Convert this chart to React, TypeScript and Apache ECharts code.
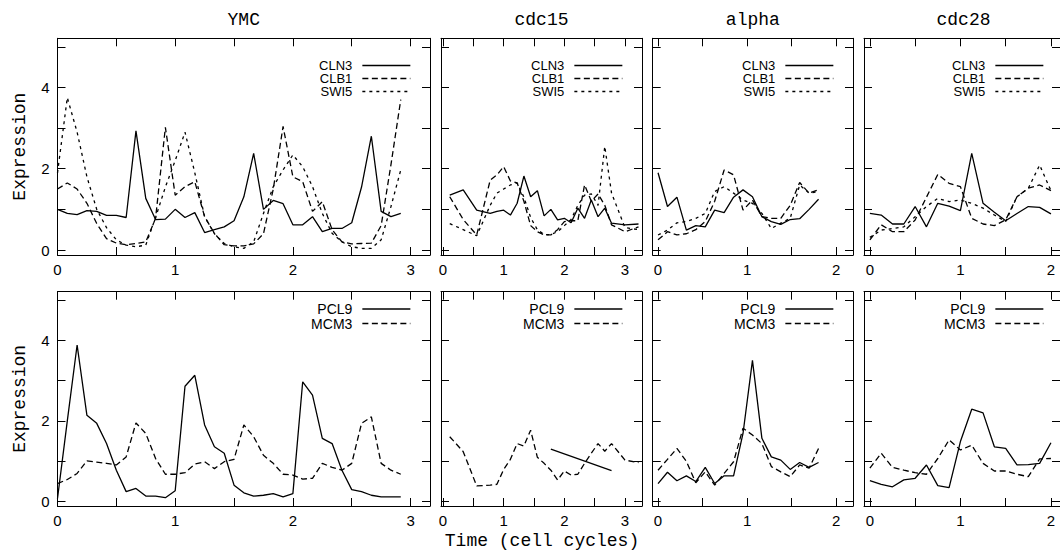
import React, { useEffect, useRef } from "react";
import * as echarts from "echarts";

// ---- sampling times (minutes) and cycle periods ----
const ymcTimes = [0, 25, 50, 75, 100, 125, 150, 175, 200, 225, 250, 275, 300, 325, 350, 375, 400, 425, 450, 475, 500, 525, 550, 575, 600, 625, 650, 675, 700, 725, 750, 775, 800, 825, 850, 875];
const cdc15Times = [10, 30, 50, 70, 80, 90, 100, 110, 120, 130, 140, 150, 160, 170, 180, 190, 200, 210, 220, 230, 240, 250, 270, 290];
const alphaTimes = [0, 7, 14, 21, 28, 35, 42, 49, 56, 63, 70, 77, 84, 91, 98, 105, 112, 119];
const cdc28Times = [0, 10, 20, 30, 40, 50, 60, 70, 80, 90, 100, 110, 120, 130, 140, 150, 160];
const cdc15Pcl9Times = [160, 250];
const periods = [300, 90, 66, 80];

// ---- expression values ----
const ymcCLN3 = [1.0, 0.9, 0.87, 0.97, 0.95, 0.85, 0.85, 0.8, 2.93, 1.27, 0.75, 0.76, 1.0, 0.8, 0.92, 0.43, 0.5, 0.57, 0.72, 1.31, 2.38, 1.0, 1.22, 1.14, 0.62, 0.62, 0.82, 0.45, 0.53, 0.53, 0.67, 1.55, 2.8, 0.95, 0.82, 0.9];
const ymcCLB1 = [1.5, 1.65, 1.5, 1.15, 0.65, 0.28, 0.17, 0.13, 0.16, 0.2, 0.78, 3.02, 1.35, 1.56, 1.68, 0.82, 0.41, 0.13, 0.1, 0.1, 0.15, 0.4, 1.5, 3.04, 1.8, 1.68, 0.95, 1.19, 0.5, 0.2, 0.15, 0.16, 0.17, 0.6, 2.1, 3.7];
const ymcSWI5 = [1.9, 3.75, 2.9, 1.8, 1.0, 0.55, 0.25, 0.12, 0.08, 0.12, 0.8, 1.55, 2.2, 2.9, 1.9, 0.82, 0.4, 0.16, 0.08, 0.04, 0.2, 0.9, 1.56, 1.97, 2.34, 2.05, 1.56, 0.9, 0.41, 0.2, 0.08, 0.04, 0.04, 0.25, 1.07, 1.97];
const ymcPCL9 = [0.08, 2.0, 3.88, 2.14, 1.94, 1.44, 0.78, 0.25, 0.33, 0.14, 0.14, 0.1, 0.27, 2.86, 3.13, 1.9, 1.36, 1.2, 0.41, 0.22, 0.14, 0.16, 0.2, 0.12, 0.2, 2.97, 2.64, 1.57, 1.44, 0.78, 0.3, 0.25, 0.16, 0.12, 0.12, 0.12];
const ymcMCM3 = [0.45, 0.55, 0.7, 1.01, 0.98, 0.95, 0.91, 1.11, 1.95, 1.69, 1.07, 0.68, 0.68, 0.72, 0.93, 0.99, 0.82, 0.99, 1.05, 1.9, 1.61, 1.15, 0.95, 0.68, 0.66, 0.56, 0.58, 0.95, 0.85, 0.78, 0.95, 1.94, 2.1, 0.95, 0.78, 0.68];

const cdc15CLN3 = [1.35, 1.48, 0.98, 0.9, 0.95, 0.98, 0.86, 1.15, 1.82, 1.31, 1.46, 0.84, 1.0, 0.74, 0.78, 0.67, 1.03, 0.78, 1.23, 0.82, 1.03, 0.66, 0.62, 0.64];
const cdc15CLB1 = [1.31, 0.75, 0.37, 1.72, 1.85, 2.05, 1.7, 1.65, 1.2, 0.6, 0.45, 0.37, 0.37, 0.5, 0.7, 0.72, 0.72, 1.6, 1.2, 1.38, 1.1, 0.62, 0.45, 0.57];
const cdc15SWI5 = [0.65, 0.5, 0.35, 1.1, 1.4, 1.5, 1.6, 1.65, 1.3, 0.8, 0.5, 0.38, 0.38, 0.45, 0.6, 0.75, 1.1, 1.35, 1.38, 1.1, 2.55, 1.4, 0.55, 0.5];
const cdc15PCL9 = [1.3, 0.77];
const cdc15MCM3 = [1.61, 1.24, 0.39, 0.41, 0.43, 0.8, 1.05, 1.44, 1.38, 1.77, 1.1, 0.95, 0.78, 0.54, 0.76, 0.66, 0.68, 0.95, 1.2, 1.44, 1.25, 1.44, 1.03, 0.97];

const alphaCLN3 = [1.9, 1.07, 1.3, 0.49, 0.6, 0.57, 0.98, 0.92, 1.3, 1.48, 1.31, 0.82, 0.7, 0.63, 0.75, 0.77, 1.0, 1.25];
const alphaCLB1 = [0.25, 0.45, 0.37, 0.4, 0.5, 0.7, 1.2, 1.97, 1.85, 0.98, 1.23, 0.82, 0.78, 0.78, 1.1, 1.66, 1.4, 1.48];
const alphaSWI5 = [0.37, 0.49, 0.67, 0.7, 0.78, 0.9, 1.44, 1.56, 1.4, 1.23, 1.15, 0.9, 0.53, 0.66, 0.78, 1.6, 1.4, 1.44];
const alphaPCL9 = [0.45, 0.73, 0.52, 0.64, 0.5, 0.85, 0.45, 0.64, 0.64, 1.69, 3.5, 1.57, 1.11, 1.03, 0.8, 0.97, 0.85, 0.97];
const alphaMCM3 = [0.78, 1.05, 1.32, 1.0, 0.47, 0.74, 0.41, 0.7, 0.99, 1.82, 1.65, 1.44, 0.87, 0.74, 0.62, 0.91, 0.83, 1.32];

const cdc28CLN3 = [0.9, 0.86, 0.64, 0.64, 1.07, 0.57, 1.15, 1.08, 0.97, 2.38, 1.15, 0.93, 0.72, 0.9, 1.07, 1.05, 0.89];
const cdc28CLB1 = [0.25, 0.62, 0.45, 0.45, 0.74, 1.3, 1.86, 1.64, 1.56, 0.78, 0.64, 0.6, 0.74, 1.31, 1.52, 1.6, 1.46];
const cdc28SWI5 = [0.31, 0.49, 0.53, 0.57, 0.82, 1.07, 1.27, 1.19, 1.23, 1.15, 1.03, 0.86, 0.7, 1.31, 1.52, 2.09, 1.46];
const cdc28PCL9 = [0.52, 0.43, 0.37, 0.54, 0.58, 0.91, 0.4, 0.35, 1.49, 2.29, 2.2, 1.36, 1.32, 0.91, 0.92, 0.95, 1.46];
const cdc28MCM3 = [0.83, 1.2, 0.85, 0.78, 0.72, 0.68, 1.07, 1.53, 1.28, 1.4, 0.95, 0.76, 0.76, 0.68, 0.62, 1.06, 1.07];

// ---- labels and ticks ----
const panelTitles = ["YMC", "cdc15", "alpha", "cdc28"];
const topGenes = ["CLN3", "CLB1", "SWI5"];
const bottomGenes = ["PCL9", "MCM3"];
const xTicks3 = [0, 0.5, 1, 1.5, 2, 2.5, 3];
const xTicks2 = [0, 0.5, 1, 1.5, 2];
const xLabels3 = [0, 1, 2, 3];
const xLabels2 = [0, 1, 2];
const yTicks = [0, 1, 2, 3, 4, 5];
const yLabels = [0, 2, 4];
const yAxisTitle = "Expression";
const xAxisTitle = "Time (cell cycles)";

// ---- layout ----
const W = 1060;
const H = 558;
const colLeft = [57.5, 441, 652.7, 864];
const colWidth = [372.5, 201, 200.3, 199];
const rowTop = [38.3, 291.7];
const rowHeight = [216.7, 214.3];
const xRanges = [[0, 3.165], [-0.033, 3.28], [-0.06, 2.19], [-0.065, 2.1]];
const yRanges = [[-0.123, 5.21], [-0.106, 5.2]];
const legendTop = [59, 302];
const legendFont = [13, 14];
const legendGap = [0, 0.5];

const dashStyles: Record<string, any> = {
  CLN3: "solid",
  CLB1: [6, 3.5],
  SWI5: [3, 4],
  PCL9: "solid",
  MCM3: [6, 3.5],
};

export default function App() {
  const ref = useRef<HTMLDivElement>(null);
  useEffect(() => {
    if (!ref.current) return;
    const chart = echarts.init(ref.current, null, { renderer: "svg", width: W, height: H });

    const times = [ymcTimes, cdc15Times, alphaTimes, cdc28Times];
    const topData = [
      [ymcCLN3, ymcCLB1, ymcSWI5],
      [cdc15CLN3, cdc15CLB1, cdc15SWI5],
      [alphaCLN3, alphaCLB1, alphaSWI5],
      [cdc28CLN3, cdc28CLB1, cdc28SWI5],
    ];
    const bottomData = [
      [ymcPCL9, ymcMCM3],
      [cdc15PCL9, cdc15MCM3],
      [alphaPCL9, alphaMCM3],
      [cdc28PCL9, cdc28MCM3],
    ];

    const grids: any[] = [];
    const xAxes: any[] = [];
    const yAxes: any[] = [];
    const series: any[] = [];
    const legends: any[] = [];

    const axisLine = { show: true, onZero: false, lineStyle: { color: "#000", width: 1 } };
    const labelFont = { fontFamily: "Liberation Sans, Arial, sans-serif", fontSize: 15, color: "#000" };

    for (let r = 0; r < 2; r++) {
      for (let c = 0; c < 4; c++) {
        const g = r * 4 + c;
        grids.push({
          left: colLeft[c],
          top: rowTop[r],
          width: colWidth[c],
          height: rowHeight[r],
          containLabel: false,
        });
        const ticks = c < 2 ? xTicks3 : xTicks2;
        const labs = c < 2 ? xLabels3 : xLabels2;
        xAxes.push({
          type: "value",
          gridIndex: g,
          position: "bottom",
          min: xRanges[c][0],
          max: xRanges[c][1],
          axisLine,
          splitLine: { show: false },
          axisTick: { show: true, inside: true, length: 8, customValues: ticks, lineStyle: { color: "#000" } },
          axisLabel: { show: true, customValues: labs, margin: 7, ...labelFont },
        });
        xAxes.push({
          type: "value",
          gridIndex: g,
          position: "top",
          min: xRanges[c][0],
          max: xRanges[c][1],
          axisLine,
          splitLine: { show: false },
          axisTick: { show: true, inside: true, length: 8, customValues: ticks, lineStyle: { color: "#000" } },
          axisLabel: { show: false },
        });
        yAxes.push({
          type: "value",
          gridIndex: g,
          position: "left",
          min: yRanges[r][0],
          max: yRanges[r][1],
          axisLine,
          splitLine: { show: false },
          axisTick: { show: true, inside: true, length: 8, customValues: yTicks, lineStyle: { color: "#000" } },
          axisLabel: c === 0 ? { show: true, customValues: yLabels, margin: 8, ...labelFont } : { show: false },
        });
        yAxes.push({
          type: "value",
          gridIndex: g,
          position: "right",
          min: yRanges[r][0],
          max: yRanges[r][1],
          axisLine,
          splitLine: { show: false },
          axisTick: { show: true, inside: true, length: 8, customValues: yTicks, lineStyle: { color: "#000" } },
          axisLabel: { show: false },
        });

        const genes = r === 0 ? topGenes : bottomGenes;
        const dataSets = r === 0 ? topData[c] : bottomData[c];
        genes.forEach((name, k) => {
          const ys = dataSets[k];
          const ts = r === 1 && c === 1 && name === "PCL9" ? cdc15Pcl9Times : times[c];
          series.push({
            type: "line",
            name,
            xAxisIndex: g * 2,
            yAxisIndex: g * 2,
            data: ys.map((v: number, i: number) => [ts[i] / periods[c], v]),
            symbol: "none",
            showSymbol: false,
            smooth: false,
            clip: true,
            lineStyle: { color: "#000", width: 1.3, type: dashStyles[name] },
            itemStyle: { color: "#000" },
            emphasis: { disabled: true },
          });
        });

        legends.push({
          orient: "vertical",
          right: W - (colLeft[c] + colWidth[c]) + 19,
          top: legendTop[r],
          align: "right",
          itemWidth: 48,
          itemHeight: 10,
          itemGap: legendGap[r],
          padding: 0,
          selectedMode: false,
          data: genes,
          itemStyle: { color: "rgba(0,0,0,0)", borderColor: "rgba(0,0,0,0)", borderWidth: 0, opacity: 0 },
          lineStyle: { width: 1.3, color: "#000" },
          textStyle: {
            fontFamily: "Liberation Sans, Arial, sans-serif",
            fontSize: legendFont[r],
            color: "#000",
            padding: [0, 5, 0, 0],
          },
        });
      }
    }

    const monoFont = "18px 'Liberation Mono', 'Courier New', monospace";
    const graphics: any[] = [];
    panelTitles.forEach((t, c) => {
      graphics.push({
        type: "text",
        x: colLeft[c] + colWidth[c] / 2,
        y: 20,
        style: { text: t, font: monoFont, fill: "#000", align: "center", verticalAlign: "middle" },
      });
    });
    for (let r = 0; r < 2; r++) {
      graphics.push({
        type: "text",
        x: 20,
        y: rowTop[r] + rowHeight[r] / 2,
        rotation: Math.PI / 2,
        style: { text: yAxisTitle, font: monoFont, fill: "#000", align: "center", verticalAlign: "middle" },
      });
    }
    graphics.push({
      type: "text",
      x: 542,
      y: 541,
      style: { text: xAxisTitle, font: monoFont, fill: "#000", align: "center", verticalAlign: "middle" },
    });

    chart.setOption({
      animation: false,
      backgroundColor: "#fff",
      grid: grids,
      xAxis: xAxes,
      yAxis: yAxes,
      legend: legends,
      series,
      graphic: graphics,
    });
    return () => chart.dispose();
  }, []);
  return <div ref={ref} style={{ position: "absolute", left: 0, top: 0, width: W, height: H }} />;
}
